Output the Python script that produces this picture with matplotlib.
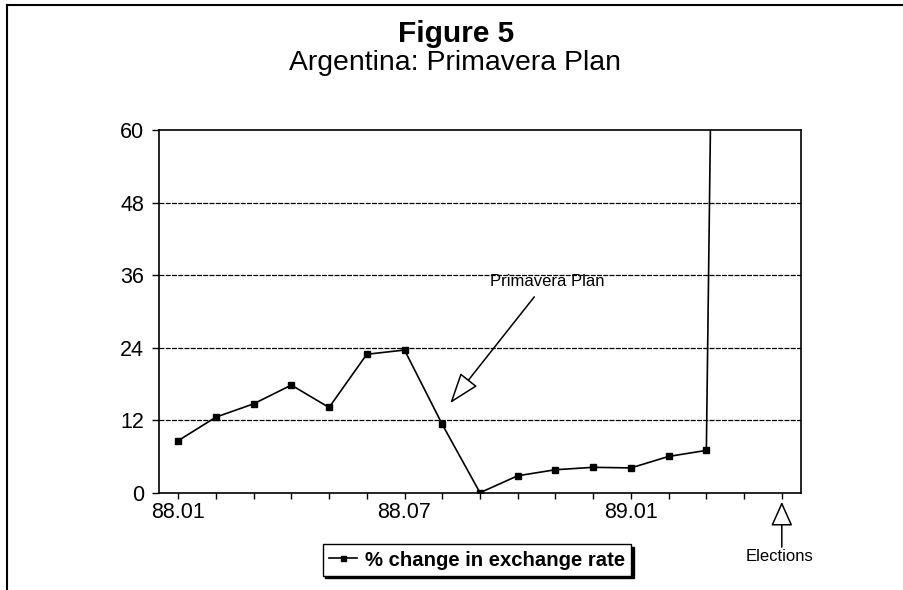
import matplotlib
matplotlib.use("Agg")
import matplotlib.pyplot as plt
from matplotlib.lines import Line2D

plt.rcParams['font.family'] = ['Liberation Sans', 'DejaVu Sans']

# Data
months = ["88.01", "88.02", "88.03", "88.04", "88.05", "88.06", "88.07", "88.08",
          "88.09", "88.10", "88.11", "88.12", "89.01", "89.02", "89.03", "89.04", "89.05"]
pct_change = [8.6, 12.5, 14.7, 17.8, 14.1, 22.9, 23.6, 11.3, 0.0, 2.8, 3.8, 4.2,
              4.1, 6.0, 7.0, 500.0]
shown_labels = ["88.01", "88.07", "89.01"]
y_ticks = [0, 12, 24, 36, 48, 60]

fig = plt.figure(figsize=(9.04, 5.90), dpi=100)
ax = fig.add_axes([0.1762, 0.1649, 0.7095, 0.6148])

x = list(range(len(pct_change)))
ax.plot(x, pct_change, color='black', lw=1.2, marker='s', ms=4.5,
        mfc='black', mec='black', label='% change in exchange rate', zorder=3)

ax.set_xlim(-0.5, len(months) - 0.5)
ax.set_ylim(0, 60)
ax.set_yticks(y_ticks)
ax.set_yticklabels([str(v) for v in y_ticks])
ax.set_xticks(range(len(months)))
ax.set_xticklabels([m if m in shown_labels else "" for m in months])

ax.tick_params(axis='y', direction='out', length=5, width=1, pad=6, labelsize=15.5)
ax.tick_params(axis='x', direction='out', length=4, width=1, pad=3, labelsize=15.5)
for s in ax.spines.values():
    s.set_linewidth(1.2)
    s.set_color('black')

for v in y_ticks[1:-1]:
    ax.axhline(v, color='black', lw=0.9, ls=(0, (4, 1)), zorder=1)

# Annotation: Primavera Plan
ax.text(9.79, 34.9, "Primavera Plan", fontsize=12, ha='center', va='center')
ax.annotate("", xy=(7.21, 14.8), xytext=(9.44, 32.4),
            arrowprops=dict(arrowstyle='-|>,head_length=0.97,head_width=0.34',
                            mutation_scale=20, fc='white', ec='black', lw=1.1,
                            shrinkA=0, shrinkB=0))

# Annotation: Elections (below axis)
tr = ax.get_xaxis_transform()
ax.annotate("", xy=(16, -0.025), xytext=(16, -0.15), xycoords=tr, textcoords=tr,
            arrowprops=dict(arrowstyle='-|>,head_length=0.76,head_width=0.34',
                            mutation_scale=20, fc='white', ec='black', lw=1.1,
                            shrinkA=0, shrinkB=0), annotation_clip=False)
ax.text(15.95, -0.177, "Elections", transform=tr, fontsize=12, ha='center',
        va='center', clip_on=False)

# Titles
fig.text(0.505, 0.9288, "Figure 5", fontsize=21.5, fontweight='bold', ha='center', va='baseline')
fig.text(0.503, 0.8814, "Argentina: Primavera Plan", fontsize=20.4, ha='center', va='baseline')

# Legend
leg = ax.legend(loc='center', bbox_to_anchor=(0.5277, 0.0508), bbox_transform=fig.transFigure,
                frameon=True, fancybox=False, shadow={'color': 'black', 'alpha': 1},
                edgecolor='black', prop={'size': 14.6, 'weight': 'bold'},
                handlelength=1.4, handletextpad=0.4, borderpad=0.3, markerscale=0.8)
leg.get_frame().set_linewidth(1.0)

# Outer frame (top and left)
fig.add_artist(Line2D([0.0077, 1.0], [0.992, 0.992], transform=fig.transFigure,
                      color='black', lw=1.5))
fig.add_artist(Line2D([0.0077, 0.0077], [0.0, 0.992], transform=fig.transFigure,
                      color='black', lw=1.5))

fig.savefig("out.png", dpi=100)
